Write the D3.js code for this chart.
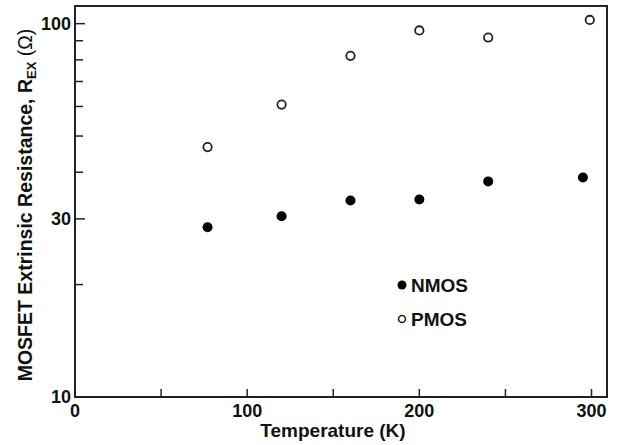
<!DOCTYPE html>
<html>
<head>
<meta charset="utf-8">
<script src="https://cdn.jsdelivr.net/npm/d3@7"></script>
<style>
  body { margin: 0; background: #fff; }
  text { font-family: "Liberation Sans", Arial, sans-serif; font-weight: bold; fill: #111; }
</style>
</head>
<body>
<svg width="620" height="445"></svg>
<script>
// temperatures (K) and extrinsic resistance (ohm)
var nmosTemp = [77, 120, 160, 200, 240, 295];
var nmosRex  = [28.5, 30.5, 33.6, 33.8, 37.8, 38.7];
var pmosTemp = [77, 120, 160, 200, 240, 299];
var pmosRex  = [46.7, 60.7, 82, 95.9, 91.8, 102.3];

var xMajor = [0, 100, 200, 300];
var xMinor = [50, 150, 250];
var yMajor = [10, 30, 100];
var yMinor = [20, 40, 50, 60, 70, 80, 90];

var legendItems = ['NMOS', 'PMOS'];

var svg = d3.select('svg');

var pLeft = 75, pRight = 607, pTop = 6, pBottom = 397;

var x = d3.scaleLinear().domain([0, 309]).range([pLeft, pRight]);
var y = d3.scaleLog().domain([10, 111.5]).range([pBottom, pTop]);

// frame
svg.append('rect')
  .attr('x', pLeft).attr('y', pTop)
  .attr('width', pRight - pLeft).attr('height', pBottom - pTop)
  .attr('fill', 'none').attr('stroke', '#222').attr('stroke-width', 2);

// x axis, ticks pointing inward
var xAxis = svg.append('g').attr('transform', 'translate(0,' + pBottom + ')');
xAxis.selectAll('line')
  .data(xMajor.concat(xMinor))
  .enter().append('line')
    .attr('x1', function(d){ return x(d) }).attr('x2', function(d){ return x(d) })
    .attr('y1', 0).attr('y2', -8)
    .attr('stroke', '#222').attr('stroke-width', 1.5);
xAxis.selectAll('text')
  .data(xMajor)
  .enter().append('text')
    .attr('x', function(d){ return x(d) })
    .attr('y', 20)
    .attr('text-anchor', 'middle')
    .style('font-size', '18px')
    .text(function(d){ return d });

svg.append('text')
  .attr('x', 333).attr('y', 437)
  .attr('text-anchor', 'middle')
  .style('font-size', '19px')
  .text('Temperature (K)');

// y axis
var yAxis = svg.append('g').attr('transform', 'translate(' + pLeft + ',0)');
yAxis.selectAll('line')
  .data(yMajor.concat(yMinor))
  .enter().append('line')
    .attr('y1', function(d){ return y(d) }).attr('y2', function(d){ return y(d) })
    .attr('x1', 0).attr('x2', function(d){ return yMajor.indexOf(d) >= 0 ? 10 : 8 })
    .attr('stroke', '#222').attr('stroke-width', 1.5);
yAxis.selectAll('text')
  .data(yMajor)
  .enter().append('text')
    .attr('x', -4)
    .attr('y', function(d){ return y(d) })
    .attr('dy', '0.36em')
    .attr('text-anchor', 'end')
    .style('font-size', '18px')
    .text(function(d){ return d });

var ylab = svg.append('text')
  .attr('transform', 'translate(32,205) rotate(-90)')
  .attr('text-anchor', 'middle')
  .style('font-size', '19.5px');
ylab.append('tspan').text('MOSFET Extrinsic Resistance, R');
ylab.append('tspan').attr('dy', 4).style('font-size', '13px').text('EX');
ylab.append('tspan').attr('dy', -4).style('font-weight', 'normal').text(' (Ω)');

// data
svg.selectAll('circle.nmos')
  .data(nmosTemp)
  .enter().append('circle')
    .attr('class', 'nmos')
    .attr('cx', function(d){ return x(d) })
    .attr('cy', function(d, i){ return y(nmosRex[i]) })
    .attr('r', 5)
    .attr('fill', '#000');

svg.selectAll('circle.pmos')
  .data(pmosTemp)
  .enter().append('circle')
    .attr('class', 'pmos')
    .attr('cx', function(d){ return x(d) })
    .attr('cy', function(d, i){ return y(pmosRex[i]) })
    .attr('r', 4.2)
    .attr('fill', '#fff')
    .attr('stroke', '#222')
    .attr('stroke-width', 1.8);

// legend
var lg = svg.append('g').attr('transform', 'translate(402,285)');
lg.selectAll('g')
  .data(legendItems)
  .enter().append('g')
    .attr('transform', function(d, i){ return 'translate(0,' + i * 34 + ')' })
    .each(function(d, i){
      var g = d3.select(this);
      if (i === 0) {
        g.append('circle').attr('r', 4.5).attr('fill', '#000');
      } else {
        g.append('circle').attr('r', 3.5).attr('fill', '#fff')
          .attr('stroke', '#222').attr('stroke-width', 1.6);
      }
      g.append('text')
        .attr('x', 9).attr('dy', '0.36em')
        .style('font-size', '19px')
        .text(d);
    });
</script>
</body>
</html>
